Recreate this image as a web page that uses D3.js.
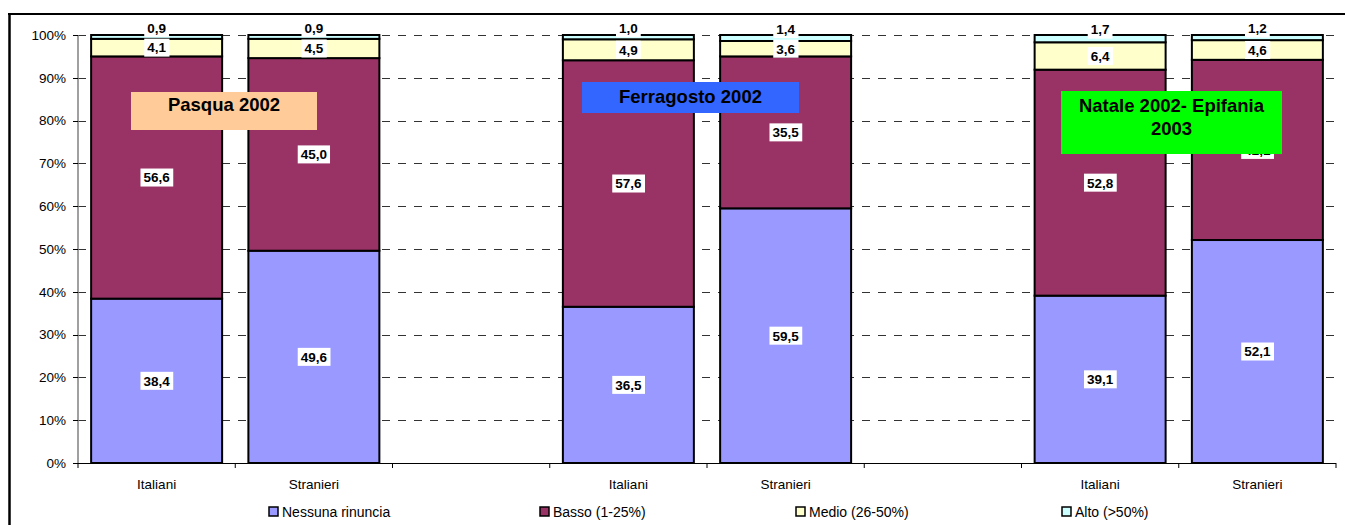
<!DOCTYPE html>
<html>
<head>
<meta charset="utf-8">
<script src="https://cdn.jsdelivr.net/npm/d3@7"></script>
<style>
  html, body { margin: 0; padding: 0; background: #fff; }
  svg { display: block; font-family: "Liberation Sans", Arial, sans-serif; }
</style>
</head>
<body>
<svg id="chart" width="1345" height="525"></svg>
<script>
// ---- Data ----
const categories = ["Italiani", "Stranieri", "", "Italiani", "Stranieri", "", "Italiani", "Stranieri"];
const seriesNames = ["Nessuna rinuncia", "Basso (1-25%)", "Medio (26-50%)", "Alto (>50%)"];
const nessuna = [38.4, 49.6, null, 36.5, 59.5, null, 39.1, 52.1];
const basso   = [56.6, 45.0, null, 57.6, 35.5, null, 52.8, 42.1];
const medio   = [4.1, 4.5, null, 4.9, 3.6, null, 6.4, 4.6];
const alto    = [0.9, 0.9, null, 1.0, 1.4, null, 1.7, 1.2];
const yTicks = [0, 10, 20, 30, 40, 50, 60, 70, 80, 90, 100];
const colors = ["#9999FF", "#993366", "#FFFFCC", "#CCFFFF"];
const periodLabels = [
  { lines: ["Pasqua 2002"], fill: "#FFCC99" },
  { lines: ["Ferragosto 2002"], fill: "#3366FF" },
  { lines: ["Natale 2002- Epifania", "2003"], fill: "#00FF00" }
];

(function () {
// ---- Layout ----
const svg = d3.select("#chart");
const pLeft = 78, pRight = 1336, pTop = 35, pBottom = 463;

const keys = categories.map((c, i) => i);
const x = d3.scaleBand().domain(keys).range([pLeft, pRight]).paddingInner(0.167).paddingOuter(0.0835);
const y = d3.scaleLinear().domain([0, 100]).range([pBottom, pTop]);
const step = x.step();

// outer frame
svg.append("line").attr("x1", 9.5).attr("x2", 9.5).attr("y1", 13).attr("y2", 525).attr("stroke", "#000").attr("stroke-width", 2.5);
svg.append("line").attr("x1", 8).attr("x2", 1345).attr("y1", 14).attr("y2", 14).attr("stroke", "#000").attr("stroke-width", 2);

// gridlines
svg.append("g").selectAll("line").data(yTicks.filter(d => d > 0)).join("line")
  .attr("x1", pLeft).attr("x2", pRight)
  .attr("y1", d => Math.round(y(d)) + 0.5).attr("y2", d => Math.round(y(d)) + 0.5)
  .attr("stroke", "#333").attr("stroke-width", 1).attr("stroke-dasharray", "8,8");

// y axis
const yAxis = svg.append("g");
yAxis.append("line").attr("x1", pLeft).attr("x2", pLeft).attr("y1", y(100)).attr("y2", y(0))
  .attr("stroke", "#808080").attr("stroke-width", 1.5);
yAxis.selectAll("line.t").data(yTicks).join("line").attr("class", "t")
  .attr("x1", pLeft - 5).attr("x2", pLeft)
  .attr("y1", d => Math.round(y(d)) + 0.5).attr("y2", d => Math.round(y(d)) + 0.5)
  .attr("stroke", "#000").attr("stroke-width", 1);
yAxis.selectAll("text").data(yTicks).join("text")
  .attr("x", pLeft - 12).attr("y", d => y(d)).attr("dy", "0.35em")
  .attr("text-anchor", "end").attr("font-size", 13.5).attr("fill", "#000")
  .text(d => d + "%");

// x axis
const xAxis = svg.append("g");
xAxis.append("line").attr("x1", pLeft).attr("x2", pRight).attr("y1", pBottom + 0.5).attr("y2", pBottom + 0.5)
  .attr("stroke", "#000").attr("stroke-width", 1);
xAxis.selectAll("line.t").data(d3.range(categories.length + 1)).join("line").attr("class", "t")
  .attr("x1", i => pLeft + i * step).attr("x2", i => pLeft + i * step)
  .attr("y1", pBottom).attr("y2", pBottom + 5)
  .attr("stroke", "#000").attr("stroke-width", 1);
xAxis.selectAll("text").data(keys).join("text")
  .attr("x", k => x(k) + x.bandwidth() / 2).attr("y", 489)
  .attr("text-anchor", "middle").attr("font-size", 13.5).attr("fill", "#000")
  .text(k => categories[k]);

// stacked bars
const seriesVals = [nessuna, basso, medio, alto];
const rows = keys.filter(k => nessuna[k] != null).map(k => {
  const o = { k };
  seriesVals.forEach((arr, si) => o["s" + si] = arr[k]);
  return o;
});
const stack = d3.stack().keys(["s0", "s1", "s2", "s3"])(rows);

const barG = svg.append("g");
stack.forEach((layer, si) => {
  barG.selectAll(null).data(layer).join("rect")
    .attr("x", d => x(d.data.k))
    .attr("width", x.bandwidth())
    .attr("y", d => y(d[1]))
    .attr("height", d => y(d[0]) - y(d[1]))
    .attr("fill", colors[si])
    .attr("stroke", "#000").attr("stroke-width", 2);
});

// data labels
const fmt = v => v.toFixed(1).replace(".", ",");
const labelG = svg.append("g");
stack.forEach((layer, si) => {
  layer.forEach(d => {
    const v = d.data["s" + si];
    const cx = x(d.data.k) + x.bandwidth() / 2;
    let cy = (y(d[0]) + y(d[1])) / 2;
    if (si === 3) cy -= 9;
    const t = labelG.append("text")
      .attr("x", cx).attr("y", cy).attr("dy", "0.36em")
      .attr("text-anchor", "middle").attr("font-size", 13.5).attr("font-weight", "bold")
      .attr("fill", "#000").text(fmt(v));
    const bb = t.node().getBBox();
    labelG.insert("rect", () => t.node())
      .attr("x", bb.x - 3).attr("y", cy - 9).attr("width", bb.width + 6).attr("height", 18)
      .attr("fill", "#fff");
  });
});

// period label boxes
const boxes = [
  { x0: 131, y0: 92, w: 186, h: 38, ty: [105] },
  { x0: 582, y0: 82, w: 217, h: 31, ty: [97] },
  { x0: 1061, y0: 91, w: 221, h: 63, ty: [106, 129] }
];
periodLabels.forEach((p, i) => {
  const b = boxes[i];
  svg.append("rect").attr("x", b.x0).attr("y", b.y0).attr("width", b.w).attr("height", b.h).attr("fill", p.fill);
  p.lines.forEach((ln, j) => {
    svg.append("text").attr("x", b.x0 + b.w / 2).attr("y", b.ty[j]).attr("dy", "0.35em")
      .attr("text-anchor", "middle").attr("font-size", 18.5).attr("font-weight", "bold")
      .attr("fill", "#000").text(ln);
  });
});

// legend
const legendX = [269, 540, 796, 1062];
const legG = svg.append("g");
seriesNames.forEach((n, i) => {
  legG.append("rect").attr("x", legendX[i]).attr("y", 507).attr("width", 9).attr("height", 9)
    .attr("fill", colors[i]).attr("stroke", "#000").attr("stroke-width", 1.5);
  legG.append("text").attr("x", legendX[i] + 13).attr("y", 512).attr("dy", "0.36em")
    .attr("font-size", 14).attr("fill", "#000").text(n);
});
})();
</script>
</body>
</html>
